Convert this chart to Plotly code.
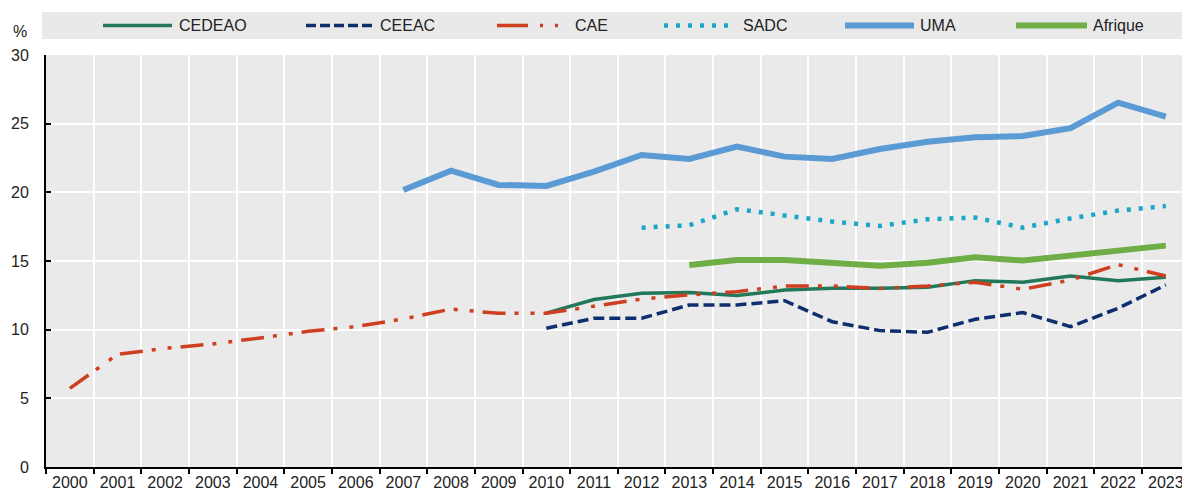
import plotly.graph_objects as go

years = [str(y) for y in range(2000, 2024)]

cedeao_years = [str(y) for y in range(2010, 2024)]
cedeao = [11.2, 12.2, 12.65, 12.7, 12.48, 12.89, 13.01, 13.01, 13.09, 13.57, 13.45, 13.91, 13.57, 13.81]

ceeac_years = [str(y) for y in range(2010, 2024)]
ceeac = [10.1, 10.83, 10.83, 11.8, 11.8, 12.11, 10.58, 9.93, 9.81, 10.76, 11.24, 10.22, 11.56, 13.26]

cae_years = [str(y) for y in range(2000, 2024)]
cae = [5.73, 8.2, 8.64, 8.96, 9.4, 9.88, 10.22, 10.78, 11.5, 11.19, 11.19, 11.72, 12.23, 12.53,
       12.77, 13.18, 13.18, 13.0, 13.18, 13.45, 12.94, 13.62, 14.74, 13.91]

sadc_years = [str(y) for y in range(2012, 2024)]
sadc = [17.43, 17.6, 18.77, 18.35, 17.87, 17.55, 18.04, 18.16, 17.43, 18.1, 18.67, 19.0]

uma_years = [str(y) for y in range(2007, 2024)]
uma = [20.17, 21.58, 20.54, 20.47, 21.51, 22.72, 22.43, 23.33, 22.6, 22.43, 23.16, 23.69,
       24.01, 24.1, 24.67, 26.53, 25.51]

afrique_years = [str(y) for y in range(2013, 2024)]
afrique = [14.71, 15.08, 15.08, 14.83, 14.66, 14.88, 15.27, 15.03, 15.37, 15.68, 16.12]

series_names = ["CEDEAO", "CEEAC", "CAE", "SADC", "UMA", "Afrique"]

C_CEDEAO = "#23785A"
C_CEEAC = "#0E2F6E"
C_CAE = "#CD3F20"
C_SADC = "#1AA6C6"
C_UMA = "#5B9BD5"
C_AFR = "#6FAD46"

DASH_CEEAC = "11px,5px"
DASH_CAE = "23px,9px,4px,12px,4px,9px"
DASH_SADC = "4px,8px"

W, H = 1182, 491
L, R, T, B = 46, 0, 55, 24
PW = W - L - R
PH = H - T - B
FONT = "Liberation Sans, Arial, Helvetica, sans-serif"

fig = go.Figure()

def add(xs, ys, name, color, width, dash="solid"):
    fig.add_trace(go.Scatter(x=xs, y=ys, name=name, mode="lines",
                             line=dict(color=color, width=width, dash=dash),
                             showlegend=False, hoverinfo="x+y+name"))

add(uma_years, uma, "UMA", C_UMA, 6)
add(sadc_years, sadc, "SADC", C_SADC, 4.5, DASH_SADC)
add(afrique_years, afrique, "Afrique", C_AFR, 6)
add(cedeao_years, cedeao, "CEDEAO", C_CEDEAO, 3.5)
add(cae_years, cae, "CAE", C_CAE, 3.5, DASH_CAE)
add(ceeac_years, ceeac, "CEEAC", C_CEEAC, 3.5, DASH_CEEAC)

def px(xp):
    return (xp - L) / PW

def py(yp):
    return (H - B - yp) / PH

shapes = []
annotations = []
# legend background
shapes.append(dict(type="rect", xref="paper", yref="paper",
                   x0=px(42), x1=px(1182), y0=py(39), y1=py(12),
                   fillcolor="#E9E9E9", line=dict(width=0), layer="below"))
LY = 25.5
legend_items = [
    ("CEDEAO", C_CEDEAO, 3.5, "solid", 103, 172, 177),
    ("CEEAC", C_CEEAC, 3.5, "10px,4px", 306, 373, 378),
    ("CAE", C_CAE, 3.5, "31px,12px,3px,12px,3px,40px", 497, 560, 573),
    ("SADC", C_SADC, 4.5, DASH_SADC, 664, 730, 741),
    ("UMA", C_UMA, 6, "solid", 845, 914, 918),
    ("Afrique", C_AFR, 6, "solid", 1016, 1087, 1091),
]
for name, col, w, dash, x0, x1, tx in legend_items:
    shapes.append(dict(type="line", xref="paper", yref="paper",
                       x0=px(x0), x1=px(x1), y0=py(LY), y1=py(LY),
                       line=dict(color=col, width=w, dash=dash)))
    annotations.append(dict(xref="paper", yref="paper", x=px(tx), y=py(LY),
                            text=name, showarrow=False, xanchor="left", yanchor="middle",
                            font=dict(family=FONT, size=16, color="#222222")))

annotations.append(dict(xref="paper", yref="paper", x=px(20), y=py(31),
                        text="%", showarrow=False, xanchor="center", yanchor="middle",
                        font=dict(family=FONT, size=16, color="#222222")))

fig.update_layout(
    width=W, height=H,
    margin=dict(l=L, r=R, t=T, b=B, autoexpand=False),
    paper_bgcolor="white",
    plot_bgcolor="#EAEAEA",
    font=dict(family=FONT, size=16, color="#222222"),
    shapes=shapes,
    annotations=annotations,
    showlegend=False,
    xaxis=dict(
        type="category",
        categoryorder="array", categoryarray=years,
        tickvals=years, ticktext=years,
        range=[-0.5, 23.34],
        tickson="boundaries",
        ticks="outside", ticklen=5, tickwidth=2, tickcolor="black",
        showline=True, linecolor="black", linewidth=2,
        showgrid=True, gridcolor="white", gridwidth=2,
        tickfont=dict(family=FONT, size=16, color="#222222"),
        automargin=False, fixedrange=True,
    ),
    yaxis=dict(
        range=[0, 30], dtick=5, tick0=0,
        ticks="inside", ticklen=5, tickwidth=2, tickcolor="black",
        showline=True, linecolor="black", linewidth=2,
        showgrid=True, gridcolor="white", gridwidth=2,
        zeroline=False,
        tickfont=dict(family=FONT, size=16, color="#222222"),
        ticklabelstandoff=12,
        automargin=False, fixedrange=True,
    ),
)

fig.write_html("out.html",
               config={"displayModeBar": False},
               post_script="document.body.style.margin='0';document.body.style.overflow='hidden';")
